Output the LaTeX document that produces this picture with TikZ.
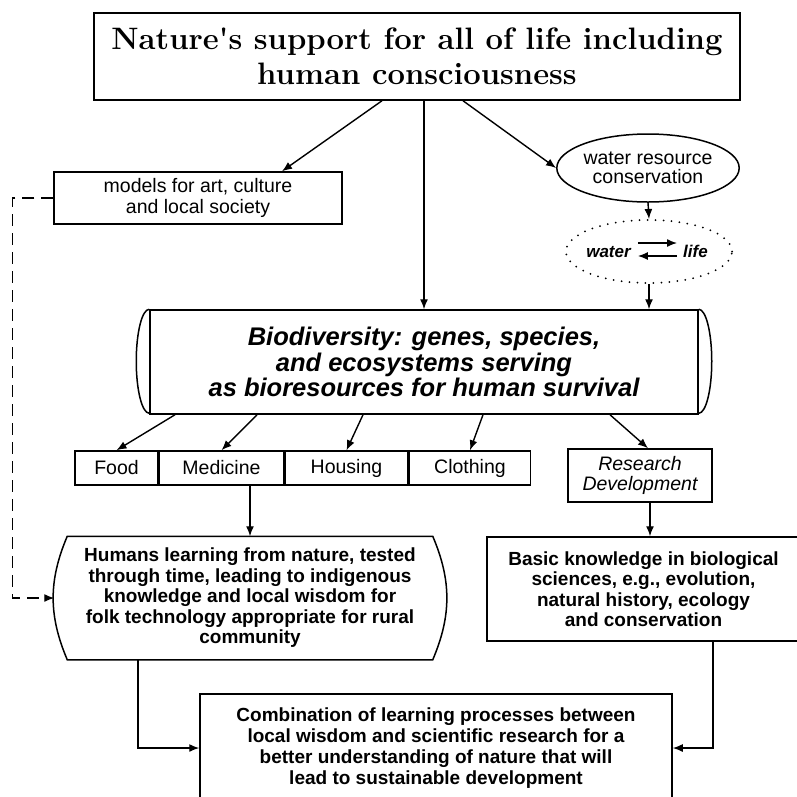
\documentclass[tikz,border=0pt]{standalone}
\usepackage{fontspec}
\newfontfamily\arialfont{Liberation Sans}
\usetikzlibrary{shapes.geometric,arrows.meta,positioning,calc}

\begin{document}
\begin{tikzpicture}[x=1pt,y=1pt,>={Latex[length=10pt,width=8pt]}]
             \tikzstyle{box} = [draw,line width=1.5pt,inner sep=0pt,align=center,font=\arialfont\fontsize{19.5}{21}\selectfont]
             \tikzstyle{boldbox} = [box,font=\arialfont\bfseries\fontsize{19.5}{21}\selectfont]
             \tikzstyle{link} = [->,line width=1.4pt]
             \tikzstyle{dashlink} = [->,line width=1.3pt,dash pattern=on 12pt off 7pt]
             \tikzstyle{dotted ring} = [draw,ellipse,line width=2pt,line cap=round,dash pattern=on 0pt off 8pt,inner sep=0pt]
		\path[use as bounding box,fill=white] (0,0) rectangle (797,-796);
		% Top
		\node[box,minimum width=646,minimum height=87,font=\bfseries\fontsize{31}{35}\selectfont] (box_top) at (417,-56.5) {Nature\textquotesingle s support for all of life including\\human consciousness};
		% Second row
		\node[box,minimum width=288,minimum height=52] (box_models) at (198,-198) {models for art, culture\\and local society};
		\node[box,ellipse,minimum width=169,minimum height=68,font=\arialfont\fontsize{19.5}{19}\selectfont] (ell_water) at (648,-168) {water resource\\conservation};
		\node[dotted ring,minimum width=166,minimum height=63] (ell_cycle) at (649,-251.5) {};
		\node[anchor=base,inner sep=0pt,font=\arialfont\bfseries\itshape\fontsize{17}{19}\selectfont] (word_water) at (608.5,-257) {water};
		\node[anchor=base,inner sep=0pt,font=\arialfont\bfseries\itshape\fontsize{17}{19}\selectfont] (word_life) at (695.5,-257) {life};
		\draw[link] ([xshift=7pt,yshift=14pt]word_water.base east) -- ([xshift=-6pt,yshift=14pt]word_life.base west);
		\draw[link] ([xshift=-6pt,yshift=1pt]word_life.base west) -- ([xshift=7pt,yshift=1pt]word_water.base east);
		% Biodiversity
		\node[box,minimum width=548,minimum height=104,font=\arialfont\bfseries\itshape\fontsize{25.5}{25.5}\selectfont] (box_bio) at (424,-362) {Biodiversity: genes, species,\\and ecosystems serving\\as bioresources for human survival};
		\draw[line width=1.5pt] (box_bio.north west) arc[start angle=90,end angle=270,x radius=13,y radius=52];
		\draw[line width=1.5pt] (box_bio.north east) arc[start angle=90,end angle=-90,x radius=13,y radius=52];
		% Resources
		\node[box,minimum width=83,minimum height=34] (box_food) at (116.5,-468) {Food};
		\node[box,minimum width=124,minimum height=34,right=0pt of box_food] (box_medicine) {Medicine};
		\node[box,minimum width=123,minimum height=34,right=0pt of box_medicine] (box_housing) {Housing};
		\node[box,minimum width=121,minimum height=34,right=0pt of box_housing] (box_clothing) {Clothing};
		\node[box,minimum width=144,minimum height=53,font=\arialfont\itshape\fontsize{19.5}{20}\selectfont] (box_research) at (640,-475.5) {Research\\Development};
		% Knowledge
		\node[boldbox,draw=none,minimum width=364,minimum height=122,font=\arialfont\bfseries\fontsize{19}{20.5}\selectfont] (box_humans) at (250,-598) {Humans learning from nature, tested\\through time, leading to indigenous\\knowledge and local wisdom for\\folk technology appropriate for rural\\community};
		\draw[line width=1.5pt] (box_humans.north west) -- (box_humans.north east) to[bend left=23] (box_humans.south east) -- (box_humans.south west) to[bend left=23] (box_humans.north west) -- cycle;
		\node[boldbox,minimum width=313,minimum height=104,font=\arialfont\bfseries\fontsize{19}{20.5}\selectfont] (box_basic) at (643.5,-589) {Basic knowledge in biological\\sciences, e.g., evolution,\\natural history, ecology\\and conservation};
		% Bottom
		\node[boldbox,minimum width=472,minimum height=108,font=\arialfont\bfseries\fontsize{19}{21}\selectfont] (box_comb) at (436,-748) {Combination of learning processes between\\local wisdom and scientific research for a\\better understanding of nature that will\\lead to sustainable development};
		% Links from the top
		\draw[link] ([xshift=-35pt]box_top.south) -- ([xshift=84pt]box_models.north);
		\draw[link] (box_bio.north |- box_top.south) -- (box_bio.north);
		\draw[link] ([xshift=46pt]box_top.south) -- (ell_water.west);
		\draw[link] (ell_water.south) -- (ell_cycle.north);
		\draw[link] (ell_cycle.south) -- (ell_cycle.south |- box_bio.north);
		\draw[dashlink] (box_models.west) -- ++(-41,0) |- ([xshift=-13pt]box_humans.west);
		% Links from biodiversity
		\draw[link] ([xshift=-249pt]box_bio.south) -- (box_food.north);
		\draw[link] ([xshift=-167pt]box_bio.south) -- (box_medicine.north);
		\draw[link] ([xshift=-61pt]box_bio.south) -- (box_housing.north);
		\draw[link] ([xshift=59pt]box_bio.south) -- (box_clothing.north);
		\draw[link] ([xshift=186pt]box_bio.south) -- ([xshift=8pt]box_research.north);
		% Links to knowledge
		\draw[link] (box_humans.north |- box_medicine.south) -- (box_humans.north);
		\draw[link] ([xshift=10pt]box_research.south) -- ([xshift=10pt]box_research.south |- box_basic.north);
		\draw[link] ([xshift=-112pt]box_humans.south) |- (box_comb.west);
		\draw[link] ([xshift=69.5pt]box_basic.south) |- (box_comb.east);
		\end{tikzpicture}
\end{document}
